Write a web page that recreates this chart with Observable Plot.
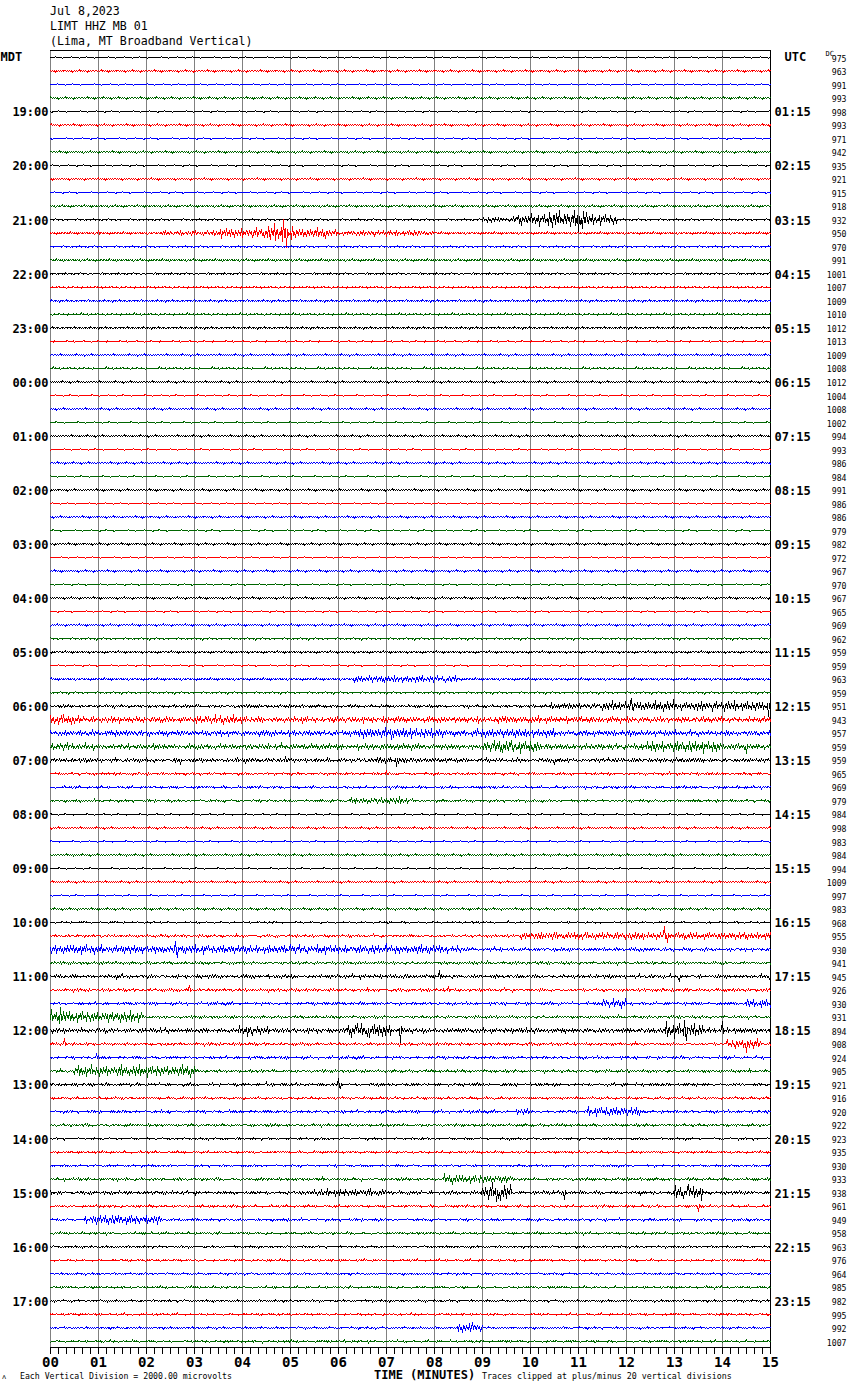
<!DOCTYPE html>
<html><head><meta charset="utf-8">
<script src="https://cdn.jsdelivr.net/npm/d3@7"></script>
<script src="https://cdn.jsdelivr.net/npm/@observablehq/plot@0.6"></script>
<style>
body{margin:0;background:#fff;}
#wrap{position:relative;width:850px;height:1390px;font-family:"DejaVu Sans Mono",monospace;color:#000;overflow:hidden;}
#wrap svg{position:absolute;left:0;top:0;}
.hdr{position:absolute;left:50px;top:4px;font-size:11.6px;line-height:15px;white-space:pre;}
.foot{position:absolute;white-space:pre;}
</style></head><body><div id="wrap"></div><script>
// ---- data ----
const title = ["Jul 8,2023", "LIMT HHZ MB 01", "(Lima, MT Broadband Vertical)"];
const minuteTicks = d3.range(0, 16);
const mdtLabels = ["19:00","20:00","21:00","22:00","23:00","00:00","01:00","02:00","03:00","04:00","05:00","06:00","07:00","08:00","09:00","10:00","11:00","12:00","13:00","14:00","15:00","16:00","17:00"];
const utcLabels = ["01:15","02:15","03:15","04:15","05:15","06:15","07:15","08:15","09:15","10:15","11:15","12:15","13:15","14:15","15:15","16:15","17:15","18:15","19:15","20:15","21:15","22:15","23:15"];
const dcValues = [975,963,991,993, 998,993,971,942, 935,921,915,918, 932,950,970,991,
  1001,1007,1009,1010, 1012,1013,1009,1008, 1012,1004,1008,1002, 994,993,986,984,
  991,986,986,979, 982,972,967,970, 967,965,969,962, 959,959,963,959,
  951,943,957,959, 959,965,969,979, 984,998,983,984, 994,1009,997,983,
  968,955,930,941, 945,926,930,931, 894,908,924,905, 921,916,920,922,
  923,935,930,933, 938,961,949,958, 963,976,964,985, 982,995,992,1007];
const traceColors = ["#000000", "#ff0000", "#0000ff", "#006600"];
// quiet background level (px) per trace
const baseNoise = [0.8,0.8,0.8,0.9, 0.8,0.8,0.8,0.9, 0.8,0.8,0.8,0.9, 0.8,0.8,0.8,0.9,
  0.8,0.8,0.8,0.9, 0.8,0.8,0.8,0.9, 0.8,0.8,0.8,0.9, 0.8,0.8,0.8,0.9,
  0.8,0.8,0.8,0.9, 0.8,0.8,0.8,0.9, 0.8,0.8,0.8,0.9, 0.8,0.8,0.8,0.9,
  0.9,0.9,0.9,0.9, 0.9,0.9,0.9,0.9, 0.8,0.8,0.8,0.9, 0.8,0.8,0.8,0.9,
  0.8,0.9,0.9,0.9, 0.9,0.9,0.9,0.9, 0.9,0.9,0.9,0.9, 0.9,0.9,0.9,0.9,
  0.8,0.8,0.8,0.9, 0.9,0.9,0.9,0.9, 0.8,0.8,0.8,0.9, 0.8,0.8,0.8,0.9];
// continuous dense noise (px) per trace
const denseNoise = [0,0,0,0, 0,0,0,0, 0,0,0,0, 0,0,0,0,
  0,0,0,0, 0,0,0,0, 0,0,0,0, 0,0,0,0,
  0,0,0,0, 0,0,0,0, 0,0,0,0, 0,0,0,0,
  1.0,3.0,2.8,2.7, 1.9,0.6,0.6,0.6, 0,0,0,0, 0,0,0,0,
  0.3,0.9,1.5,0.9, 1.6,1.0,0.9,0.9, 2.3,0.9,0.9,0.9, 0.9,0.5,0.9,0.8,
  0.4,0.4,0.4,0.9, 1.4,0.6,0.6,0.5, 0.4,0.4,0.4,0.4, 0.4,0.4,0.4,0.4];
// [trace, start min, end min, half-amplitude px]
const events = [
  [12,9.0,9.7,2.5],[12,9.7,11.8,6],[12,10.3,11.2,9.5],
  [13,2.3,3.5,2.5],[13,3.5,5.8,5.5],[13,4.5,5.1,9.5],[13,5.8,8.0,2.8],
  [46,6.3,8.5,3.5],
  [48,10.4,11.5,3],[48,11.5,15,5],
  [49,0,0.6,5],[49,3.0,4.0,4.5],[49,9.3,9.6,5],
  [50,6.4,8.2,5.5],[50,8.8,10.5,4.5],
  [51,9.0,10.2,6.5],[51,12.4,14.0,6],[51,0,0.5,4.5],
  [52,6.8,7.5,3],
  [55,6.2,7.5,3.5],
  [65,9.8,15,3.6],
  [66,0,8.3,4.3],[66,8.3,8.6,3.5],
  [70,11.5,12.0,5],[70,14.5,15,4.3],
  [71,0,1.9,6],
  [72,3.9,4.6,5],[72,6.2,7.1,7],[72,12.8,13.6,8.5],
  [73,14.1,14.8,5],
  [75,0.5,3.0,6],
  [78,9.7,10.0,3],[78,11.2,12.3,5],
  [83,8.2,9.6,4.3],
  [84,5.5,7.0,3.6],[84,9.0,9.6,8.5],[84,13.0,13.6,7],
  [86,0.7,2.3,5],
  [94,8.5,9.0,5]
];
// [trace, minute, px] positive = up
const spikes = [
  [12,10.6,9],[12,11.0,-12],[12,11.1,8],
  [13,1.0,3],[13,4.85,14],[13,4.92,-14],
  [48,12.1,8],[48,14.95,-10],
  [49,0.5,-4],
  [50,7.1,-6],
  [51,9.6,6],[51,14.5,-7],
  [52,2.7,-4],[52,4.9,4],[52,7.2,-6],[52,10.5,-4],
  [53,7.0,3],
  [65,12.8,9],[65,12.85,-7],
  [66,2.6,8],[66,2.65,-8],[66,5.0,5],[66,7.0,6],
  [68,1.5,3],[68,8.1,6],[68,13.1,-5],
  [69,2.9,5],[69,8.3,4],
  [71,0.2,10],
  [72,4.2,-5],[72,6.4,7],[72,6.6,-6],[72,7.3,-12],[72,13.2,10],[72,13.25,-10],[72,14.0,9],
  [73,0.3,6],[73,14.5,-8],
  [74,0.95,4],
  [76,4.5,3],[76,6.0,6],[76,6.05,-4],
  [84,9.2,10],[84,9.3,-9],[84,10.7,-7],[84,13.3,8],
  [85,13.5,-5],
  [94,8.8,5]
];
// fixed wiggle patterns: a sparse one for quiet background, a dense one for active noise
const sparseCarrier = [0.4,-0.3,0.3,-0.4,0.3,1.5,-0.3,0.4,-0.4,0.3,-0.3,0.4,-1.3,0.3,-0.4,0.4,-0.3,0.3,-0.4,0.4,-0.3,1.2,0.3,-0.4,0.3,-0.3,0.4,-0.4,0.3,-1.5,-0.3,0.4,-0.3,0.3,-0.4,0.4,1.4,-0.3,0.3,-0.4,0.4,-0.3,0.3,-0.4,-1.2,0.4,-0.3,0.3,-0.4,0.3,0.4,-0.3,0.3];
const denseCarrier = [0.2,-0.4,0.6,-0.1,0.3,-0.8,0.1,0.5,-0.3,1.0,-0.6,0.0,0.4,-0.2,0.7,-0.5,0.1,-0.9,0.3,0.2,-0.4,0.8,-0.1,-0.6,0.5,0.0,-0.3,1.0,-0.7,0.2,0.4,-0.5,0.1,-0.2,0.6,-1.0,0.3,-0.1,0.5,-0.4,0.9,-0.3,0.0,0.2,-0.6,0.7,-0.2,0.1,-0.8,0.4,0.3,-0.5,0.6,-0.1,-0.3,0.8,-0.7,0.2,0.0,-0.4,0.5];

// ---- build samples ----
const PX = 1297 / 95.97;     // px per trace spacing
const SPM = 48;              // samples per minute
const rows = [];
for (let i = 0; i < 96; i++) {
  const evs = events.filter(e => e[0] === i);
  const vals = [];
  for (let j = 0; j <= 15 * SPM; j++) {
    const t = j / SPM;
    let a = denseNoise[i];
    for (const e of evs) if (t >= e[1] && t <= e[2]) a = Math.max(a, e[3]);
    vals.push(baseNoise[i] * sparseCarrier[(j + 7 * i) % sparseCarrier.length]
      + a * denseCarrier[(j + 13 * i) % denseCarrier.length]);
  }
  for (const s of spikes.filter(s => s[0] === i)) {
    const j0 = Math.round(s[1] * SPM);
    vals[j0] = s[2];
    if (j0 + 1 < vals.length) vals[j0 + 1] = -s[2] * 0.3;
  }
  vals.forEach((v, j) => rows.push({trace: i, t: j / SPM, v}));
}
const hourRows = mdtLabels.map((l, k) => ({i: 4 * (k + 1), mdt: l, utc: utcLabels[k]}));
const dcRows = dcValues.map((v, i) => ({i, v: String(v)}));

const lines = traceColors.map((c, k) =>
  Plot.line(rows.filter(d => d.trace % 4 === k), {
    x: "t", y: d => d.trace - d.v / PX, z: "trace",
    stroke: c, strokeWidth: 1, shapeRendering: "crispEdges"
  }));

const chart = Plot.plot({
  width: 850, height: 1390,
  marginLeft: 50, marginRight: 80, marginTop: 50, marginBottom: 43,
  x: {domain: [0, 15]},
  y: {domain: [-0.52, 95.45], reverse: true, axis: null},
  style: {background: "white", fontFamily: "DejaVu Sans Mono", overflow: "visible"},
  marks: [
    Plot.ruleX(minuteTicks.filter(m => m < 15), {x: d => d, y1: () => -0.52, y2: () => 95.45, stroke: "#808080", shapeRendering: "crispEdges"}),
    Plot.ruleX([15], {x: d => d, y1: () => -0.52, y2: () => 95.45, stroke: "#000", shapeRendering: "crispEdges"}),
    Plot.ruleY([-0.52], {stroke: "#000", shapeRendering: "crispEdges"}),
    ...lines,
    Plot.ruleY([95.45], {stroke: "#000", shapeRendering: "crispEdges"}),
    Plot.axisX({ticks: d3.range(0, 90.5).map(k => k / 6), tickSize: 7, tickFormat: () => "", label: null, stroke: "#000"}),
    Plot.axisX({ticks: minuteTicks, tickSize: 7, tickPadding: 3, tickFormat: d => String(d).padStart(2, "0"),
      label: null, fontSize: 14, fontWeight: "bold", fill: "#000"}),
    Plot.text(hourRows, {y: "i", text: "mdt", frameAnchor: "left", textAnchor: "end", dx: -2, dy: 1, fontSize: 12, fontWeight: "bold", fill: "#000"}),
    Plot.text(hourRows, {y: "i", text: "utc", frameAnchor: "right", textAnchor: "start", dx: 4, dy: 1, fontSize: 12, fontWeight: "bold", fill: "#000"}),
    Plot.text(dcRows, {y: "i", text: "v", frameAnchor: "right", textAnchor: "end", dx: 76, dy: 1.5, fontSize: 8.2, fill: "#000"}),
    Plot.text(["MDT"], {y: () => 0, text: d => d, frameAnchor: "left", textAnchor: "start", dx: -50, fontSize: 12, fontWeight: "bold", fill: "#000"}),
    Plot.text(["UTC"], {y: () => 0, text: d => d, frameAnchor: "right", textAnchor: "start", dx: 14, fontSize: 12, fontWeight: "bold", fill: "#000"}),
    Plot.text(["DC"], {y: () => 0, text: d => d, frameAnchor: "right", textAnchor: "start", dx: 55, dy: -4, fontSize: 7, fill: "#000"})
  ]
});
const wrap = document.getElementById("wrap");
wrap.appendChild(chart);
const hdr = document.createElement("div");
hdr.className = "hdr";
hdr.textContent = title.join("\n");
wrap.appendChild(hdr);
function foot(text, css) {
  const d = document.createElement("div");
  d.className = "foot";
  d.textContent = text;
  d.style.cssText += css;
  wrap.appendChild(d);
}
foot("TIME (MINUTES)", "left:374px;top:1367px;font-size:12px;font-weight:bold;line-height:16px;");
foot("Each Vertical Division = 2000.00 microvolts", "left:20px;top:1371px;font-size:8.2px;line-height:11px;");
foot("Traces clipped at plus/minus 20 vertical divisions", "left:482px;top:1371px;font-size:8.3px;line-height:11px;");
foot("\u028c", "left:2px;top:1372px;font-size:7px;line-height:10px;");
</script></body></html>
